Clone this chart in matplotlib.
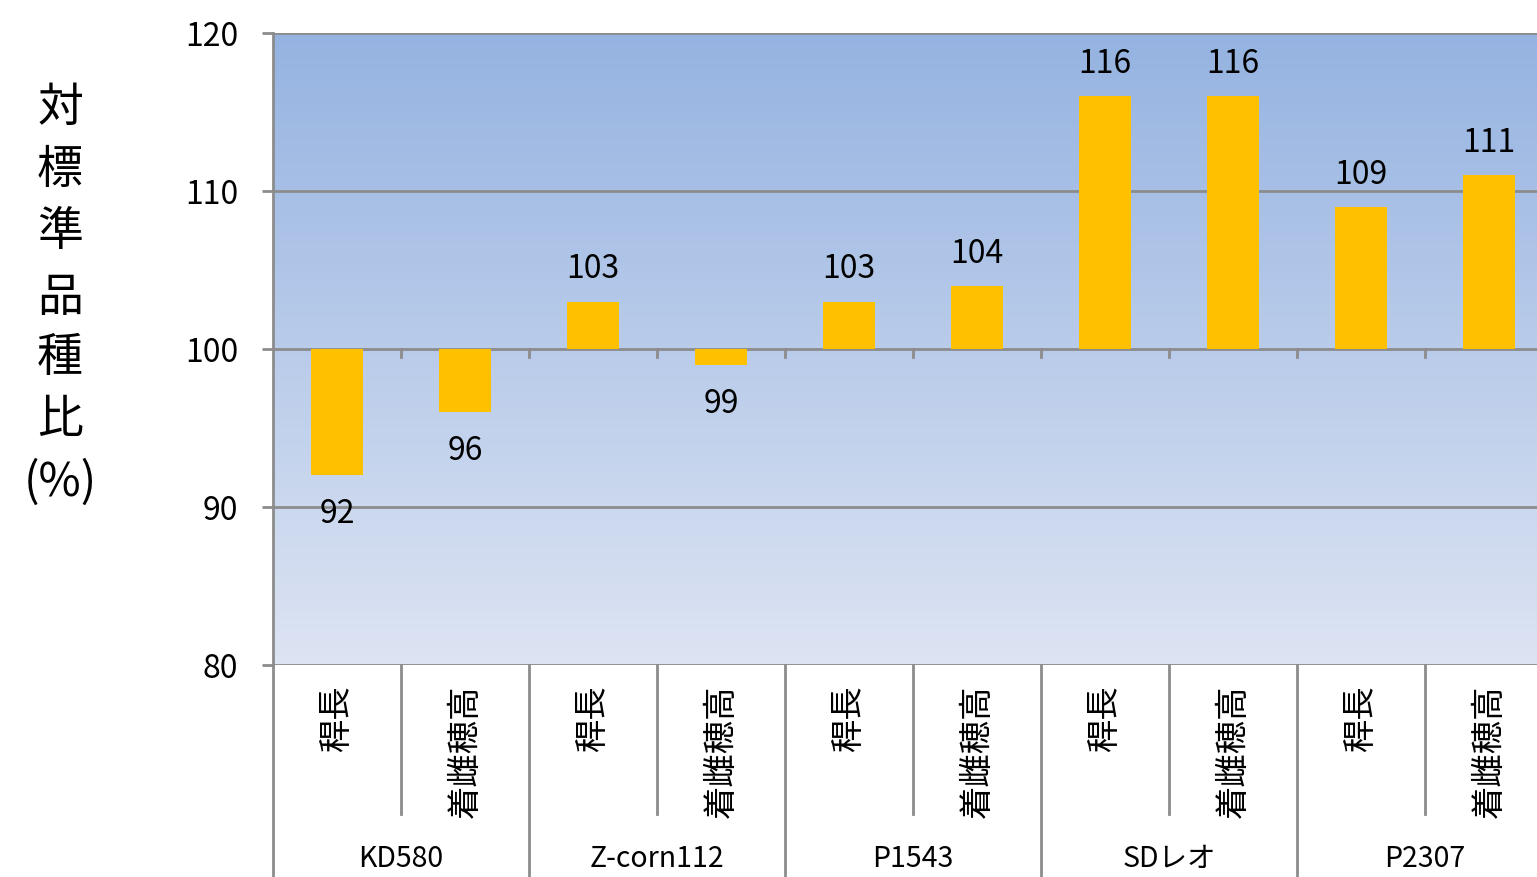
import numpy as np
import matplotlib.pyplot as plt
from matplotlib.colors import LinearSegmentedColormap

plt.rcParams['font.family'] = ['Noto Sans CJK JP', 'DejaVu Sans']

# data
groups = ['KD580', 'Z-corn112', 'P1543', 'SDレオ', 'P2307']
traits = ['稈長', '着雌穂高']
values = [92, 96, 103, 99, 103, 104, 116, 116, 109, 111]
base = 100
y_ticks = [80, 90, 100, 110, 120]
ylabel_chars = ['対', '標', '準', '品', '種', '比', '(%)']

W, H = 1537, 878
fig = plt.figure(figsize=(W / 100, H / 100), dpi=100)
ax = fig.add_axes([273 / W, (H - 666) / H, 1280 / W, 632 / H])

n = len(values)
xs = np.arange(n)
ax.set_xlim(-0.5, n - 0.5)
ax.set_ylim(80, 120)

# gradient background
cmap = LinearSegmentedColormap.from_list('bg', ['#dde4f3', '#95b3e1'])
grad = np.linspace(0, 1, 256).reshape(-1, 1)
ax.imshow(grad, cmap=cmap, origin='lower', aspect='auto',
          extent=[-0.5, n - 0.5, 80, 120], zorder=0)

grid_col = '#8c8c8c'
for yv in y_ticks:
    ax.axhline(yv, color=grid_col, lw=2, zorder=1)

# bars from the 100 baseline
heights = [v - base for v in values]
ax.bar(xs, heights, bottom=base, width=0.4, color='#ffc000', zorder=3)

for x, v in zip(xs, values):
    off = 2.1 if v >= base else -2.4
    ax.text(x, v + off, str(v), ha='center', va='center', fontsize=23, zorder=4)

# small ticks on the 100 axis
for b in np.arange(0.5, n - 0.5, 1):
    ax.plot([b, b], [base, base - 0.5], color=grid_col, lw=2, zorder=2)

# spines / ticks
for s in ['top', 'right', 'bottom']:
    ax.spines[s].set_visible(False)
ax.spines['left'].set_color(grid_col)
ax.spines['left'].set_linewidth(2)
ax.set_yticks(y_ticks)
ax.tick_params(axis='y', length=8, width=2, color=grid_col, pad=17, labelsize=23)
ax.set_xticks([])

# category labels and separators below the plot
trans = ax.get_xaxis_transform()
for i in range(n):
    ax.text(i, -0.03, traits[i % 2], rotation=90, ha='center', va='top',
            fontsize=24, transform=trans)
for b in np.arange(0.5, n - 0.5, 1):
    if int(b + 0.5) % 2 == 0:
        ax.plot([b, b], [0, -0.4], color=grid_col, lw=2, transform=trans, clip_on=False)
    else:
        ax.plot([b, b], [0, -0.236], color=grid_col, lw=2, transform=trans, clip_on=False)
ax.plot([-0.5, -0.5], [0, -0.4], color=grid_col, lw=2, transform=trans, clip_on=False)
for g, name in enumerate(groups):
    ax.text(2 * g + 0.5, -0.305, name, ha='center', va='center', fontsize=20.5,
            transform=trans)

# vertical y-axis title
y_pos = [108, 170, 232, 298, 358, 420, 483]
for ch, yp in zip(ylabel_chars, y_pos):
    fig.text(60 / W, 1 - yp / H, ch, ha='center', va='center', fontsize=33)

fig.savefig('out.png', dpi=100)
